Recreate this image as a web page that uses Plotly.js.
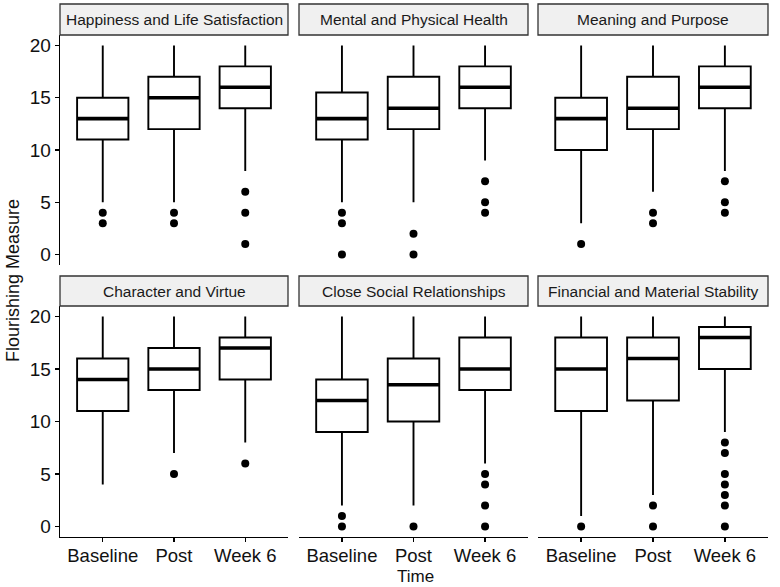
<!DOCTYPE html>
<html>
<head>
<meta charset="utf-8">
<script src="https://cdn.plot.ly/plotly-3.0.1.min.js"></script>
<style>html,body{margin:0;padding:0;background:#fff;}#chart{width:780px;height:587px;}</style>
</head>
<body>
<div id="chart"></div>
<script>
// ---- data ----
const timePoints = ["Baseline", "Post", "Week 6"];
const facetNames = [
  "Happiness and Life Satisfaction",
  "Mental and Physical Health",
  "Meaning and Purpose",
  "Character and Virtue",
  "Close Social Relationships",
  "Financial and Material Stability"
];
// per facet: values for [Baseline, Post, Week 6]
const upperWhisker = [
  [20, 20, 20], [20, 20, 20], [20, 20, 20],
  [20, 20, 20], [20, 20, 20], [20, 20, 20]
];
const q3Values = [
  [15, 17, 18], [15.5, 17, 18], [15, 17, 18],
  [16, 17, 18], [14, 16, 18], [18, 18, 19]
];
const medianValues = [
  [13, 15, 16], [13, 14, 16], [13, 14, 16],
  [14, 15, 17], [12, 13.5, 15], [15, 16, 18]
];
const q1Values = [
  [11, 12, 14], [11, 12, 14], [10, 12, 14],
  [11, 13, 14], [9, 10, 13], [11, 12, 15]
];
const lowerWhisker = [
  [5, 5, 8], [5, 5, 9], [3, 6, 8],
  [4, 7, 8], [2, 2, 6], [1, 3, 9]
];
const outlierValues = [
  [[4, 3], [4, 3], [6, 4, 1]],
  [[4, 3, 0], [2, 0], [7, 5, 4]],
  [[1], [4, 3], [7, 5, 4]],
  [[], [5], [6]],
  [[1, 0], [0], [5, 4, 2, 0]],
  [[0], [2, 0], [8, 7, 5, 4, 3, 2, 0]]
];
const yTicks = [0, 5, 10, 15, 20];

// ---- layout geometry (pixels) ----
const W = 780, H = 587;
const colPx = [[60, 288], [299, 528], [538, 768]];
const rowPx = [[35, 265], [306, 537]];
const stripPx = [[4, 35], [276, 306]];
const px = v => v / W;
const py = v => 1 - v / H;

const FONT = "Liberation Sans, Arial, sans-serif";
const traces = [];
const layout = {
  width: W, height: H,
  margin: {l: 0, r: 0, t: 0, b: 0},
  paper_bgcolor: "#ffffff",
  plot_bgcolor: "#ffffff",
  showlegend: false,
  font: {family: FONT, color: "#111111"},
  shapes: [],
  annotations: []
};

facetNames.forEach((name, i) => {
  const r = Math.floor(i / 3), c = i % 3;
  const n = i + 1;
  const xa = "x" + (n === 1 ? "" : n), ya = "y" + (n === 1 ? "" : n);
  const xk = "xaxis" + (n === 1 ? "" : n), yk = "yaxis" + (n === 1 ? "" : n);
  const isLeft = c === 0, isBottom = r === 1;

  layout[xk] = {
    domain: [px(colPx[c][0]), px(colPx[c][1])],
    anchor: ya,
    type: "category",
    categoryorder: "array",
    categoryarray: timePoints,
    range: [-0.6, 2.6],
    showgrid: false, zeroline: false,
    showline: isBottom, linecolor: "#000", linewidth: 1.3,
    ticks: isBottom ? "outside" : "", ticklen: 4, tickcolor: "#000", tickwidth: 1.3,
    showticklabels: isBottom,
    ticklabelstandoff: -3,
    tickfont: {family: FONT, size: 18.5, color: "#111"},
    fixedrange: true
  };
  layout[yk] = {
    domain: [py(rowPx[r][1]), py(rowPx[r][0])],
    anchor: xa,
    range: [-1, 21],
    tickvals: yTicks,
    showgrid: false, zeroline: false,
    showline: isLeft, linecolor: "#000", linewidth: 1.3,
    ticks: isLeft ? "outside" : "", ticklen: 4, tickcolor: "#000", tickwidth: 1.3,
    showticklabels: isLeft,
    tickfont: {family: FONT, size: 19, color: "#111"},
    fixedrange: true
  };

  // box body
  traces.push({
    type: "box", xaxis: xa, yaxis: ya,
    x: timePoints,
    q1: q1Values[i], median: medianValues[i], q3: q3Values[i],
    lowerfence: lowerWhisker[i], upperfence: upperWhisker[i],
    boxpoints: false,
    width: 0.72,
    fillcolor: "rgba(255,255,255,0)",
    line: {color: "#000", width: 1.9},
    whiskerwidth: 0,
    hoverinfo: "skip"
  });
  // thick median bar (degenerate box at the median)
  traces.push({
    type: "box", xaxis: xa, yaxis: ya,
    x: timePoints,
    q1: medianValues[i], median: medianValues[i], q3: medianValues[i],
    lowerfence: medianValues[i], upperfence: medianValues[i],
    boxpoints: false,
    width: 0.72,
    fillcolor: "rgba(0,0,0,0)",
    line: {color: "#000", width: 3.6},
    hoverinfo: "skip"
  });
  // outliers
  const ox = [], oy = [];
  outlierValues[i].forEach((arr, k) => arr.forEach(v => { ox.push(timePoints[k]); oy.push(v); }));
  traces.push({
    type: "scatter", mode: "markers", xaxis: xa, yaxis: ya,
    x: ox, y: oy,
    marker: {color: "#000", size: 8, line: {width: 0}},
    hoverinfo: "skip"
  });

  // strip
  layout.shapes.push({
    type: "rect", xref: "paper", yref: "paper",
    x0: px(colPx[c][0]), x1: px(colPx[c][1]),
    y0: py(stripPx[r][1]), y1: py(stripPx[r][0]),
    fillcolor: "#f0f0f0", line: {color: "#333", width: 1.3}
  });
  layout.annotations.push({
    xref: "paper", yref: "paper",
    x: px((colPx[c][0] + colPx[c][1]) / 2),
    y: py((stripPx[r][0] + stripPx[r][1]) / 2),
    text: name, showarrow: false,
    xanchor: "center", yanchor: "middle",
    font: {family: FONT, size: 15.5, color: "#1a1a1a"}
  });
});

// axis titles
layout.annotations.push({
  xref: "paper", yref: "paper", x: px(415), y: py(576),
  text: "Time", showarrow: false, xanchor: "center", yanchor: "middle",
  borderpad: 0,
  font: {family: FONT, size: 17, color: "#111"}
});
layout.annotations.push({
  xref: "paper", yref: "paper", x: px(13), y: py(281),
  text: "Flourishing Measure", showarrow: false, textangle: -90,
  xanchor: "center", yanchor: "middle",
  font: {family: FONT, size: 18, color: "#111"}
});

Plotly.newPlot("chart", traces, layout, {displayModeBar: false, staticPlot: true});
</script>
</body>
</html>
